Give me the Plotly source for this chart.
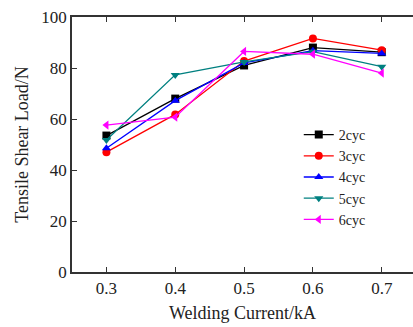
import plotly.graph_objects as go

currents = [0.3, 0.4, 0.5, 0.6, 0.7]
cyc2 = [53.5, 68.0, 81.0, 88.0, 86.2]
cyc3 = [47.0, 61.8, 82.7, 91.6, 87.0]
cyc4 = [48.5, 67.2, 82.0, 86.8, 85.7]
cyc5 = [51.8, 77.3, 82.4, 86.4, 80.5]
cyc6 = [57.6, 60.7, 86.5, 85.4, 78.0]

series = [
    ("2cyc", cyc2, "#000000", "square"),
    ("3cyc", cyc3, "#ff0000", "circle"),
    ("4cyc", cyc4, "#0000ff", "triangle-up"),
    ("5cyc", cyc5, "#008080", "triangle-down"),
    ("6cyc", cyc6, "#ff00ff", "triangle-left"),
]

fig = go.Figure()
for name, vals, col, sym in series:
    fig.add_trace(go.Scatter(
        x=currents, y=vals, name=name, mode="lines+markers",
        line=dict(color=col, width=1.3),
        marker=dict(symbol=sym, size=8, color=col),
    ))

font = "Liberation Serif, Times New Roman, serif"
fig.update_layout(
    width=413, height=327,
    margin=dict(l=72, r=0, t=17, b=55),
    paper_bgcolor="white", plot_bgcolor="white",
    font=dict(family=font, size=17, color="#222"),
    showlegend=True,
    legend=dict(x=0.665, y=0.60, xanchor="left", yanchor="top",
                bgcolor="rgba(0,0,0,0)", font=dict(size=14, family=font),
                tracegroupgap=0, itemwidth=30),
    xaxis=dict(range=[0.25, 0.7454], tickvals=currents,
               ticktext=["0.3", "0.4", "0.5", "0.6", "0.7"],
               showgrid=False, zeroline=False, showline=True, linecolor="#333",
               linewidth=1.5, mirror="ticks", ticks="inside", ticklen=5,
               tickcolor="#333",
               title=dict(text="Welding Current/kA", font=dict(size=18), standoff=9)),
    yaxis=dict(range=[0, 100], tickvals=[0, 20, 40, 60, 80, 100],
               showgrid=False, zeroline=False, showline=True, linecolor="#333",
               linewidth=1.5, ticks="inside", ticklen=5, tickcolor="#333",
               title=dict(text="Tensile Shear Load/N", font=dict(size=18), standoff=8)),
)

fig.write_html("out.html", config={"displayModeBar": False},
               post_script="document.body.style.margin='0';document.body.style.overflow='hidden';")
